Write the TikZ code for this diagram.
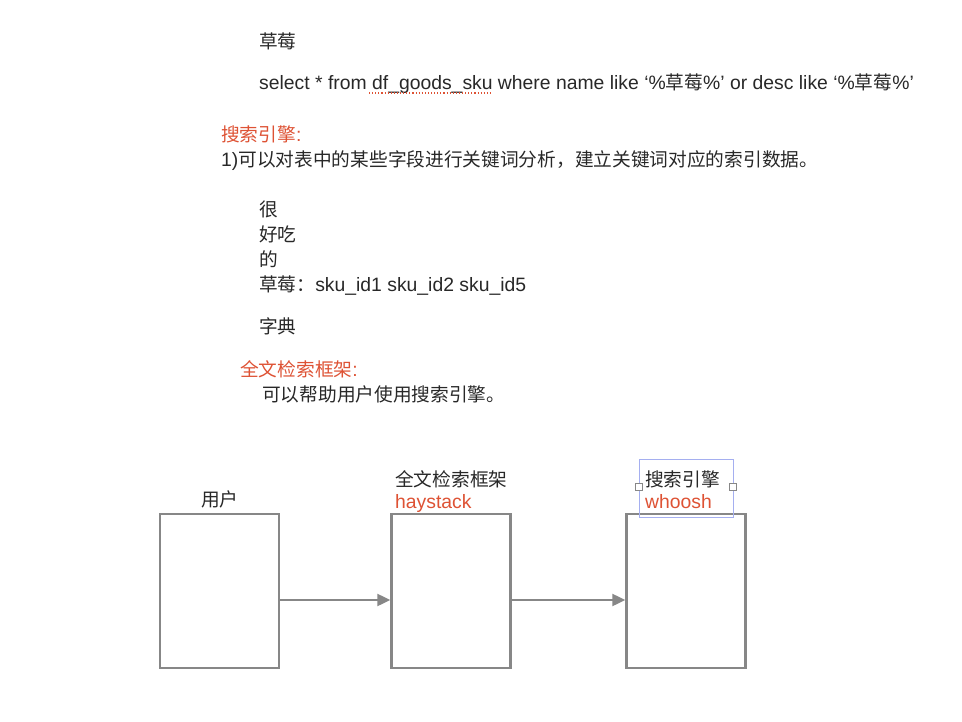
\documentclass[tikz,border=0pt]{standalone}
\usepackage{fontspec}
\setmainfont[Scale=1.035]{Liberation Sans}
\newfontfamily\cjk{Noto Sans CJK SC}
\newcommand{\zh}[1]{{\cjk #1}}
\usetikzlibrary{arrows.meta,calc}
\definecolor{txt}{RGB}{40,40,40}
\definecolor{redt}{RGB}{222,82,52}
\definecolor{boxg}{RGB}{135,135,135}
\definecolor{selb}{RGB}{165,175,240}
\tikzset{
  line/.style={anchor=base west,inner sep=0pt,text=txt,font=\fontsize{18.7}{22}\selectfont},
  redline/.style={line,text=redt},
  blk/.style={draw=boxg,line width=2.4pt,minimum width=119pt,minimum height=154pt,inner sep=0pt},
  flow/.style={draw=boxg,line width=2.2pt,-{Triangle[length=13pt,width=12pt]}},
  handle/.style={draw=boxg,fill=white,line width=0.7pt,minimum size=6.5pt,inner sep=0pt}
}
\begin{document}
\begin{tikzpicture}[x=1pt,y=-1pt]
\useasboundingbox[fill=white] (0,0) rectangle (962,722);
% top text
\node[line] (t1) at (259,49) {\zh{草莓}};
\node[line] (t2) at (259,90) {select * from df\_goods\_sku where name like ‘\%\zh{草莓}\%’ or desc like ‘\%\zh{草莓}\%’};
\draw[redt,line width=1.1pt,dotted] (369,93) -- (490,93);
\node[redline] (t3) at (221,142) {\zh{搜索引擎}:};
\node[line] (t4) at (221,167) {1)\zh{可以对表中的某些字段进行关键词分析，建立关键词对应的索引数据。}};
\node[line] (t5) at (259,217) {\zh{很}};
\node[line] (t6) at (259,242) {\zh{好吃}};
\node[line] (t7) at (259,267) {\zh{的}};
\node[line] (t8) at (259,292) {\zh{草莓：}sku\_id1 sku\_id2 sku\_id5};
\node[line] (t9) at (259,334) {\zh{字典}};
\node[redline] (t10) at (240,376) {\zh{全文检索框架}:};
\node[line] (t11) at (262,401) {\zh{可以帮助用户使用搜索引擎。}};
% diagram
\node[blk] (b1) at (219.5,591) {};
\node[blk] (b2) at (451,591) {};
\node[blk] (b3) at (686,591) {};
\node[line] (l1) at (201,506) {\zh{用户}};
\node[line] (l2) at (395,486) {\zh{全文检索框架}};
\node[redline] (l2b) at (395,508) {haystack};
\draw[selb,line width=0.8pt] (639,459) rectangle (733,517);
\node[line] (l3) at (645,486) {\zh{搜索引擎}};
\node[redline] (l3b) at (645,508) {whoosh};
\node[handle] (h1) at (639,487) {};
\node[handle] (h2) at (733,487) {};
\coordinate (ay) at (0,600);
\draw[flow] (b1.east |- ay) -- (b2.west |- ay);
\draw[flow] (b2.east |- ay) -- (b3.west |- ay);
\end{tikzpicture}
\end{document}
